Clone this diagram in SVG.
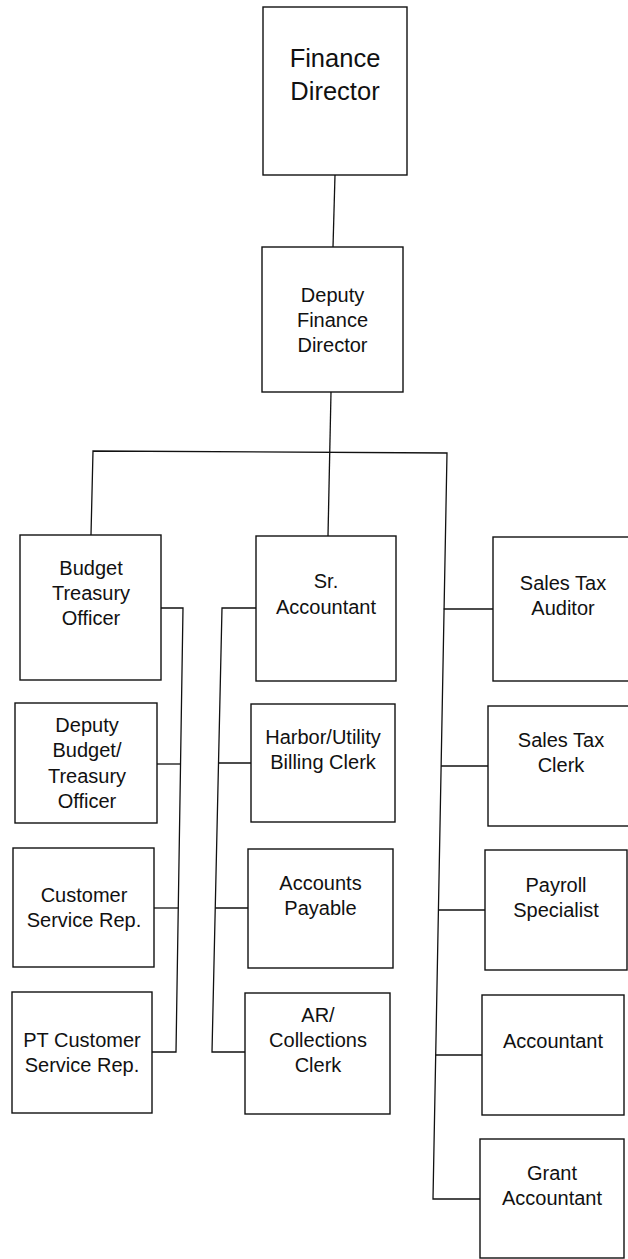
<svg xmlns="http://www.w3.org/2000/svg" width="628" height="1259" viewBox="0 0 628 1259">
<style>
.box{fill:#fff;stroke:#111;stroke-width:1.4}
.ln{fill:none;stroke:#111;stroke-width:1.3}
text{font-family:"Liberation Sans",Arial,sans-serif;font-size:20px;fill:#111;text-anchor:middle}
.big{font-size:25.5px}
</style>
<rect width="628" height="1259" fill="#fff"/>
<g id="connectors">
<polyline class="ln" points="335,175 333,247"/>
<polyline class="ln" points="331,392 328,536"/>
<polyline class="ln" points="91,535 93,451 447,453 433,1199 480,1199"/>
<polyline class="ln" points="161,608 183,608 176,1052 152,1052"/>
<polyline class="ln" points="157,764 180.5,764"/>
<polyline class="ln" points="154,908 178.3,908"/>
<polyline class="ln" points="256,608 222,608 212,1052 245,1052"/>
<polyline class="ln" points="218.5,763 251,763"/>
<polyline class="ln" points="215.2,908 248,908"/>
<polyline class="ln" points="443.7,609 493,609"/>
<polyline class="ln" points="441.1,766 488,766"/>
<polyline class="ln" points="438.4,910 485,910"/>
<polyline class="ln" points="435.7,1055 482,1055"/>
</g>
<g id="finance-director">
<rect class="box" x="263" y="7" width="144" height="168"/>
<text class="big" x="335" y="67">Finance</text>
<text class="big" x="335" y="100">Director</text>
</g>
<g id="deputy-finance-director">
<rect class="box" x="262" y="247" width="141" height="145"/>
<text x="332.5" y="302">Deputy</text>
<text x="332.5" y="327">Finance</text>
<text x="332.5" y="352">Director</text>
</g>
<g id="budget-treasury-officer">
<rect class="box" x="20" y="535" width="141" height="145"/>
<text x="91" y="575">Budget</text>
<text x="91" y="600">Treasury</text>
<text x="91" y="625">Officer</text>
</g>
<g id="deputy-budget-treasury-officer">
<rect class="box" x="15" y="703" width="142" height="120"/>
<text x="87" y="732">Deputy</text>
<text x="87" y="757">Budget/</text>
<text x="87" y="783">Treasury</text>
<text x="87" y="808">Officer</text>
</g>
<g id="customer-service-rep">
<rect class="box" x="13" y="848" width="141" height="119"/>
<text x="84" y="902">Customer</text>
<text x="84" y="927">Service Rep.</text>
</g>
<g id="pt-customer-service-rep">
<rect class="box" x="12" y="992" width="140" height="121"/>
<text x="82" y="1047">PT Customer</text>
<text x="82" y="1072">Service Rep.</text>
</g>
<g id="sr-accountant">
<rect class="box" x="256" y="536" width="140" height="145"/>
<text x="326" y="588">Sr.</text>
<text x="326" y="614">Accountant</text>
</g>
<g id="harbor-utility-billing-clerk">
<rect class="box" x="251" y="704" width="144" height="118"/>
<text x="323" y="744">Harbor/Utility</text>
<text x="323" y="769">Billing Clerk</text>
</g>
<g id="accounts-payable">
<rect class="box" x="248" y="849" width="145" height="119"/>
<text x="320.5" y="890">Accounts</text>
<text x="320.5" y="915">Payable</text>
</g>
<g id="ar-collections-clerk">
<rect class="box" x="245" y="993" width="145" height="121"/>
<text x="318" y="1022">AR/</text>
<text x="318" y="1047">Collections</text>
<text x="318" y="1072">Clerk</text>
</g>
<g id="sales-tax-auditor">
<rect class="box" x="493" y="537" width="141" height="144"/>
<text x="563" y="590">Sales Tax</text>
<text x="563" y="615">Auditor</text>
</g>
<g id="sales-tax-clerk">
<rect class="box" x="488" y="706" width="146" height="120"/>
<text x="561" y="747">Sales Tax</text>
<text x="561" y="772">Clerk</text>
</g>
<g id="payroll-specialist">
<rect class="box" x="485" y="850" width="142" height="120"/>
<text x="556" y="892">Payroll</text>
<text x="556" y="917">Specialist</text>
</g>
<g id="accountant">
<rect class="box" x="482" y="995" width="142" height="120"/>
<text x="553" y="1048">Accountant</text>
</g>
<g id="grant-accountant">
<rect class="box" x="480" y="1139" width="144" height="119"/>
<text x="552" y="1180">Grant</text>
<text x="552" y="1205">Accountant</text>
</g>
</svg>
